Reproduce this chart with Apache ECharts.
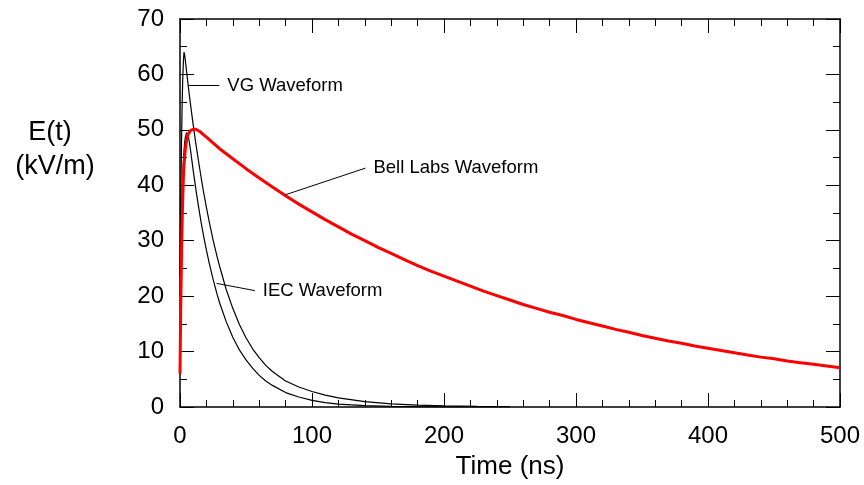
<!DOCTYPE html>
<html>
<head>
<meta charset="utf-8">
<script src="https://cdn.jsdelivr.net/npm/echarts@6/dist/echarts.min.js"></script>
<style>
html,body{margin:0;padding:0;background:#fff;}
#c{width:864px;height:485px;}
</style>
</head>
<body>
<div id="c"></div>
<script>
// ---- data ----
const tBell = [0,0.5,1,1.5,2,2.5,3,4,5,6,8,10,12,15,20,30,40,50,60,70,80,90,100,110,120,130,140,150,160,170,180,190,200,210,220,230,240,250,260,270,280,290,300,310,320,330,340,350,360,370,380,390,400,410,420,430,440,450,460,470,480,490,500];
const vBell = [6,17,25,32,37,41,43.5,46.5,48.2,49.1,49.9,50.1,50.1,49.7,48.7,46.6,44.8,43.0,41.3,39.7,38.1,36.6,35.2,33.8,32.5,31.2,30.0,28.8,27.7,26.6,25.5,24.5,23.6,22.7,21.8,20.9,20.1,19.3,18.5,17.8,17.1,16.5,15.8,15.2,14.6,14.0,13.5,12.9,12.4,11.9,11.5,11.0,10.6,10.2,9.8,9.4,9.0,8.7,8.3,8.0,7.7,7.4,7.1];

const tVG = [0,0.5,1,1.5,2,2.5,3,3.5,4,5,6,7,8,10,12,14,16,18,20,22,25,28,30,35,40,45,50,55,60,65,70,80,90,100,110,120,140,160,180,200,225,250];
const vVG = [23.5,35,45,53,58.5,62,64,63.6,62.6,60.5,58.4,56.4,54.5,50.9,47.5,44.4,41.4,38.6,36.0,33.6,30.2,27.2,25.4,21.2,17.8,14.9,12.5,10.5,8.9,7.5,6.4,4.7,3.6,2.8,2.15,1.65,0.98,0.58,0.34,0.2,0.1,0.05];

const tIEC = [0,0.5,1,1.5,2,2.5,3,3.5,4,5,6,7,8,10,12,14,16,18,20,22,25,28,30,35,40,45,50,55,60,65,70,80,90,100,110,120,140,160,180,200,225,250];
const vIEC = [20,27,33,37.5,41,44,46,47.6,48.6,49.5,49.1,47.9,46.3,42.7,39.3,36.2,33.3,30.7,28.3,26.1,23.1,20.4,18.8,15.4,12.6,10.3,8.5,7.0,5.7,4.7,3.9,2.6,1.8,1.2,0.8,0.53,0.24,0.11,0.05,0.02,0.01,0];

const xTicks = [0,100,200,300,400,500];
const yTicks = [0,10,20,30,40,50,60,70];

// annotation anchors (data space): leader start, leader end
const noteVG   = {from:[6.3,58.0],  to:[29.8,58.0],  text:'VG Waveform'};
const noteBell = {from:[80,38.3],   to:[140.5,43.1], text:'Bell Labs Waveform'};
const noteIEC  = {from:[27.7,22.3], to:[56.7,21.0],  text:'IEC Waveform'};

const FONT = 'Liberation Sans, Arial, sans-serif';
const pairs = (t, v) => t.map((x, i) => [x, v[i]]);

function note(n){
  return {
    markLine: {
      silent: true, symbol: ['none','none'], animation: false,
      label: {show: false},
      lineStyle: {color: '#000', width: 1, type: 'solid'},
      emphasis: {disabled: true},
      data: [[{coord: n.from}, {coord: n.to}]]
    },
    markPoint: {
      silent: true, symbol: 'circle', symbolSize: 0, animation: false,
      label: {show: true, position: 'right', distance: 8, formatter: n.text,
              color: '#000', fontFamily: FONT, fontSize: 18.5},
      data: [{coord: n.to}]
    }
  };
}

const chart = echarts.init(document.getElementById('c'), null, {renderer: 'canvas'});

const axisLine = {show: true, onZero: false, lineStyle: {color: '#000', width: 1.5}};
const xCommon = {
  type: 'value', min: 0, max: 500, interval: 100,
  axisLine: axisLine,
  axisTick: {show: true, inside: true, length: 14, lineStyle: {color: '#000', width: 1}},
  minorTick: {show: true, splitNumber: 5, length: 7, lineStyle: {color: '#000', width: 1}},
  splitLine: {show: false}, minorSplitLine: {show: false}
};
const yCommon = {
  type: 'value', min: 0, max: 70, interval: 10,
  axisLine: axisLine,
  axisTick: {show: true, inside: true, length: 14, lineStyle: {color: '#000', width: 1}},
  minorTick: {show: true, splitNumber: 2, length: 7, lineStyle: {color: '#000', width: 1}},
  splitLine: {show: false}, minorSplitLine: {show: false}
};

const option = {
  animation: false,
  backgroundColor: '#fff',
  grid: {left: 180, right: 24, top: 19, bottom: 78, containLabel: false},
  graphic: [
    {type: 'text', x: 50, y: 133, style: {text: 'E(t)', font: '27px ' + FONT, fill: '#000', align: 'center', verticalAlign: 'middle'}},
    {type: 'text', x: 55, y: 167, style: {text: '(kV/m)', font: '27px ' + FONT, fill: '#000', align: 'center', verticalAlign: 'middle'}}
  ],
  xAxis: [
    Object.assign({}, xCommon, {
      position: 'bottom',
      name: 'Time (ns)', nameLocation: 'middle', nameGap: 47,
      nameTextStyle: {color: '#000', fontFamily: FONT, fontSize: 26},
      axisLabel: {show: true, margin: 17, color: '#000', fontFamily: FONT, fontSize: 24,
                  formatter: v => xTicks.includes(v) ? String(v) : ''}
    }),
    Object.assign({}, xCommon, {position: 'top', axisLabel: {show: false}})
  ],
  yAxis: [
    Object.assign({}, yCommon, {
      position: 'left',
      axisLabel: {show: true, margin: 16, color: '#000', fontFamily: FONT, fontSize: 24,
                  formatter: v => yTicks.includes(v) ? String(v) : ''}
    }),
    Object.assign({}, yCommon, {position: 'right', axisLabel: {show: false}})
  ],
  series: [
    Object.assign({
      name: 'IEC Waveform', type: 'line', xAxisIndex: 0, yAxisIndex: 0,
      data: pairs(tIEC, vIEC), showSymbol: false, symbol: 'none', smooth: false,
      lineStyle: {color: '#000', width: 1.2}, z: 3
    }, note(noteIEC)),
    Object.assign({
      name: 'VG Waveform', type: 'line', xAxisIndex: 0, yAxisIndex: 0,
      data: pairs(tVG, vVG), showSymbol: false, symbol: 'none', smooth: false,
      lineStyle: {color: '#000', width: 1.2}, z: 3
    }, note(noteVG)),
    Object.assign({
      name: 'Bell Labs Waveform', type: 'line', xAxisIndex: 0, yAxisIndex: 0,
      data: pairs(tBell, vBell), showSymbol: false, symbol: 'none', smooth: false,
      lineStyle: {color: '#ff0000', width: 3}, z: 4
    }, note(noteBell))
  ]
};
chart.setOption(option);
</script>
</body>
</html>
